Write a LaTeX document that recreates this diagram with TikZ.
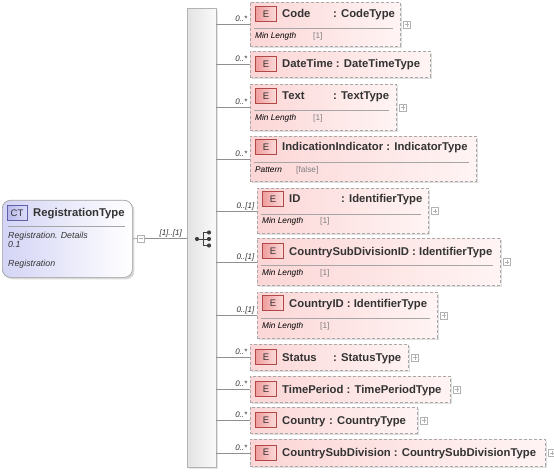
\documentclass[tikz,border=0pt]{standalone}
\usepackage{fontspec}
\setmainfont{Liberation Sans}
\usetikzlibrary{shadows}
\definecolor{txt}{HTML}{333333}
\definecolor{elfillA}{HTML}{FCD6D6}
\definecolor{elfillB}{HTML}{FFF4F4}
\definecolor{elborder}{HTML}{A8A8A8}
\definecolor{badgeA}{HTML}{F09C9C}
\definecolor{badgeB}{HTML}{FCDCDC}
\definecolor{badgeborder}{HTML}{B04848}
\definecolor{ctA}{HTML}{D4D4F6}
\definecolor{ctB}{HTML}{FFFFFF}
\definecolor{ctbadgeA}{HTML}{B8B8EC}
\definecolor{ctbadgeB}{HTML}{DCDCFA}
\definecolor{ctbadgeborder}{HTML}{6060A8}
\definecolor{linecol}{HTML}{909090}
\tikzset{
  elbox/.style={draw=elborder, dash pattern=on 3pt off 2pt, line width=0.8pt,
    left color=elfillA, right color=elfillB, anchor=north west, inner sep=0pt,
    drop shadow={shadow xshift=2pt, shadow yshift=-2pt, opacity=0.25, fill=gray}},
  ebadge/.style={draw=badgeborder, left color=badgeA, right color=badgeB,
    minimum width=21pt, minimum height=15pt, inner sep=0pt,
    font=\fontsize{9.5}{10}\selectfont, text=txt},
  hdr/.style={anchor=base west, inner sep=0pt, font=\bfseries\fontsize{11.3}{13}\selectfont, text=txt},
  facet/.style={anchor=base west, inner sep=0pt, font=\itshape\fontsize{8.3}{9}\selectfont, text=black},
  fval/.style={anchor=base west, inner sep=0pt, font=\fontsize{8.3}{9}\selectfont, text=gray},
  card/.style={anchor=base east, inner sep=0pt, font=\itshape\fontsize{8}{9}\selectfont, text=txt},
  conn/.style={draw=linecol, line width=0.6pt},
  sepl/.style={draw=gray!70, line width=0.6pt},
  plusbox/.style={draw=gray!60, fill=white, minimum size=7pt, inner sep=0pt, line width=0.5pt},
  seqbar/.style={draw=gray!60, left color=gray!22, right color=gray!4, inner sep=0pt, anchor=north west,
    drop shadow={shadow xshift=2pt, shadow yshift=-2pt, opacity=0.2, fill=gray}},
  ctbox/.style={draw=gray!75, rounded corners=8pt, left color=ctA, right color=ctB, inner sep=0pt,
    anchor=north west, line width=0.7pt,
    drop shadow={shadow xshift=2pt, shadow yshift=-2pt, opacity=0.3, fill=gray}},
  ctbadge/.style={draw=ctbadgeborder, left color=ctbadgeA, right color=ctbadgeB,
    minimum width=20pt, minimum height=15pt, inner sep=0pt, font=\fontsize{9.5}{10}\selectfont, text=black!80},
  ctinfo/.style={anchor=base west, inner sep=0pt, font=\itshape\fontsize{8.8}{10}\selectfont, text=txt},
}
% #1 name, #2 x, #3 y, #4 w, #5 h, #6 cardinality, #7 header y
\newcommand\mkel[7]{%
  \node[elbox, minimum width=#4pt, minimum height=#5pt] (#1) at (#2,#3) {};
  \draw[conn] (bar.east |- #1.west) -- (#1.west);
  \node[card] (#1-c) at ([xshift=-2.5pt, yshift=2.5pt]#1.west) {#6};
  \node[ebadge] (#1-e) at (#2+16,#7) {E};
}
\newcommand\mkplus[1]{%
  \node[plusbox] (#1-p) at ([xshift=6pt]#1.east) {};
  \draw[gray!60, line width=0.5pt] ([xshift=1.5pt]#1-p.west) -- ([xshift=-1.5pt]#1-p.east)
    ([yshift=-1.5pt]#1-p.north) -- ([yshift=1.5pt]#1-p.south);
}
\begin{document}
\begin{tikzpicture}[x=1pt,y=-1pt]
\useasboundingbox (0,0) rectangle (554,473);

% sequence bar
\node[seqbar, minimum width=29pt, minimum height=459pt] (bar) at (187,8) {};
\node[inner sep=0pt, minimum size=4pt] (seq) at (203,239) {};
\fill[black!75] (197,239) circle (2.1pt);
\draw[black!75, line width=0.8pt] (197,239) -- (203,239) (203,232.5) -- (203,245.5)
  (203,232.5) -- (209,232.5) (203,239) -- (209,239) (203,245.5) -- (209,245.5);
\fill[black!75] (209,232.5) circle (2.1pt) (209,239) circle (2.1pt) (209,245.5) circle (2.1pt);

% complex type
\node[ctbox, minimum width=130pt, minimum height=77pt] (ct) at (2,200) {};
\node[ctbadge] (ctb) at (17,213) {CT};
\node[hdr] (ctname) at (33,217) {RegistrationType};
\draw[sepl] (8,226) -- (125,226);
\node[ctinfo] (ct1) at (8,238) {Registration. Details};
\node[ctinfo] (ct2) at (8,247.5) {0.1};
\node[ctinfo] (ct3) at (8,266.5) {Registration};
\node[plusbox] (ctm) at (141,238.5) {};
\draw[gray!60, line width=0.5pt] ([xshift=1.5pt]ctm.west) -- ([xshift=-1.5pt]ctm.east);
\draw[conn] (ct.east) -- (ctm.west);
\draw[conn] (ctm.east) -- (bar.west |- ctm.east);
\node[card] (ctc) at ([xshift=-5pt, yshift=2.5pt]bar.west |- ctm.east) {[1]..[1]};

% 1 Code
\mkel{code}{250}{2}{150}{44}{0..*}{14}
\node[hdr] at (282,18) {Code};
\node[hdr] at (333,18) {: CodeType};
\draw[sepl] (254,28) -- (393,28);
\node[facet] at (255,38.9) {Min Length};
\node[fval] at (313,38.9) {[1]};
\mkplus{code}

% 2 DateTime
\mkel{dt}{250}{51}{180}{26}{0..*}{64}
\node[hdr] at (282,68) {DateTime : DateTimeType};

% 3 Text
\mkel{text}{250}{84}{146}{46}{0..*}{96}
\node[hdr] at (282,100) {Text};
\node[hdr] at (333,100) {: TextType};
\draw[sepl] (254,110) -- (389,110);
\node[facet] at (255,120.9) {Min Length};
\node[fval] at (313,120.9) {[1]};
\mkplus{text}

% 4 IndicationIndicator
\mkel{ind}{250}{136}{226}{45}{0..*}{147}
\node[hdr] at (282,151) {IndicationIndicator : IndicatorType};
\draw[sepl] (254,162) -- (469,162);
\node[facet] at (255,172.9) {Pattern};
\node[fval] at (296,172.9) {[false]};

% 5 ID
\mkel{id}{257}{188}{171}{45}{0..[1]}{199}
\node[hdr] at (289,203) {ID};
\node[hdr] at (341,203) {: IdentifierType};
\draw[sepl] (261,214) -- (421,214);
\node[facet] at (262,223.9) {Min Length};
\node[fval] at (320,223.9) {[1]};
\mkplus{id}

% 6 CountrySubDivisionID
\mkel{csdid}{257}{238}{243}{47}{0..[1]}{251}
\node[hdr] at (289,255) {CountrySubDivisionID : IdentifierType};
\draw[sepl] (261,265) -- (493,265);
\node[facet] at (262,275.9) {Min Length};
\node[fval] at (320,275.9) {[1]};
\mkplus{csdid}

% 7 CountryID
\mkel{cid}{257}{292}{180}{46}{0..[1]}{303}
\node[hdr] at (289,307) {CountryID : IdentifierType};
\draw[sepl] (261,318) -- (430,318);
\node[facet] at (262,328.9) {Min Length};
\node[fval] at (320,328.9) {[1]};
\mkplus{cid}

% 8 Status
\mkel{status}{250}{344}{158}{26}{0..*}{357}
\node[hdr] at (282,361) {Status};
\node[hdr] at (333,361) {: StatusType};
\mkplus{status}

% 9 TimePeriod
\mkel{tp}{250}{376}{200}{26}{0..*}{389}
\node[hdr] at (282,393) {TimePeriod : TimePeriodType};
\mkplus{tp}

% 10 Country
\mkel{country}{250}{407}{167}{26}{0..*}{420}
\node[hdr] at (282,424) {Country};
\node[hdr] at (329,424) {: CountryType};
\mkplus{country}

% 11 CountrySubDivision
\mkel{csd}{250}{439}{295}{27}{0..*}{452.5}
\node[hdr] at (282,456.5) {CountrySubDivision : CountrySubDivisionType};
\mkplus{csd}
\end{tikzpicture}
\end{document}
